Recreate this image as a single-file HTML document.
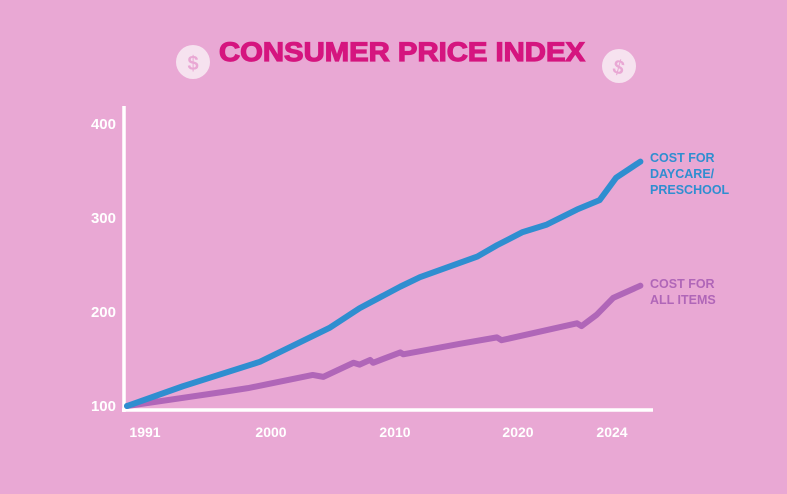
<!DOCTYPE html>
<html><head><meta charset="utf-8"><style>
html,body{margin:0;padding:0;background:#e9a8d4;}
svg{display:block;font-family:"Liberation Sans",sans-serif;}
</style></head><body>
<svg width="787" height="494" viewBox="0 0 787 494">
<rect width="787" height="494" fill="#e9a8d4"/>
<text x="402" y="61" text-anchor="middle" font-size="27" font-weight="900" fill="#d5157f" textLength="366" lengthAdjust="spacingAndGlyphs" stroke="#d5157f" stroke-width="1.2">CONSUMER PRICE INDEX</text>
<g><circle cx="193" cy="62" r="17" fill="#f6e2ef"/><text x="193" y="70" text-anchor="middle" font-size="20" font-weight="bold" fill="#e9a8d4">$</text></g>
<g><circle cx="619" cy="66" r="17" fill="#f6e2ef"/><text x="619" y="74" text-anchor="middle" font-size="20" font-weight="bold" fill="#e9a8d4" transform="rotate(15 619 66)">$</text></g>
<line x1="124" y1="106" x2="124" y2="412" stroke="#fff" stroke-width="3.5"/>
<line x1="122" y1="410" x2="653" y2="410" stroke="#fff" stroke-width="3.5"/>
<g id="yt" font-size="15" font-weight="900" fill="#fff" text-anchor="end"></g>
<g font-size="14" font-weight="900" fill="#fff" text-anchor="middle">
<text x="145" y="437">1991</text>
<text x="271" y="437">2000</text>
<text x="395" y="437">2010</text>
<text x="518" y="437">2020</text>
<text x="612" y="437">2024</text>
</g>
<g id="lines"></g>
<g font-size="12.5" font-weight="900">
<text fill="#2f8ed0" x="650" y="162"><tspan x="650">COST FOR</tspan><tspan x="650" dy="16">DAYCARE/</tspan><tspan x="650" dy="16">PRESCHOOL</tspan></text>
<text fill="#b066b8" x="650" y="288"><tspan x="650">COST FOR</tspan><tspan x="650" dy="16">ALL ITEMS</tspan></text>
</g>
</svg>
<script>
const yTicks=[100,200,300,400];
const dayYears=[1991,1994.7,1999.8,2004.4,2006.4,2009.1,2010.4,2014.2,2015.5,2017.2,2018.8,2020.8,2022.3,2023.4,2025];
const dayVals=[100,121,147,183,204,227,237,259,271,285,293,309,319,343,360];
const allYears=[1991,1997.4,1999,2003.3,2004,2006,2006.4,2007.1,2007.3,2009.1,2009.3,2013,2015.5,2015.8,2020.8,2021.1,2022.1,2023.2,2025];
const allVals=[100,115,119,133,131,146,144,149,146,157,155,166,173,170,188,185,197,215,228];
const xs=y=>127+(y-1991)*15.1;
const ys=v=>406-(v-100)*0.94;
const NS="http://www.w3.org/2000/svg";
const yt=document.getElementById('yt');
yTicks.forEach(t=>{const e=document.createElementNS(NS,'text');


e.setAttribute('x',116);e.setAttribute('y',ys(t)+5);e.textContent=t;yt.appendChild(e);});
const g=document.getElementById('lines');
function line(yr,vals,col,name){const p=document.createElementNS(NS,'polyline');


p.setAttribute('points',yr.map((y,i)=>xs(y)+','+ys(vals[i])).join(' '));
p.setAttribute('fill','none');p.setAttribute('stroke',col);p.setAttribute('stroke-width','6');
p.setAttribute('stroke-linejoin','round');p.setAttribute('stroke-linecap','round');g.appendChild(p);}
line(allYears,allVals,'#b066b8','all-items-line');
line(dayYears,dayVals,'#2f8ed0','daycare-line');
</script>
</body></html>
